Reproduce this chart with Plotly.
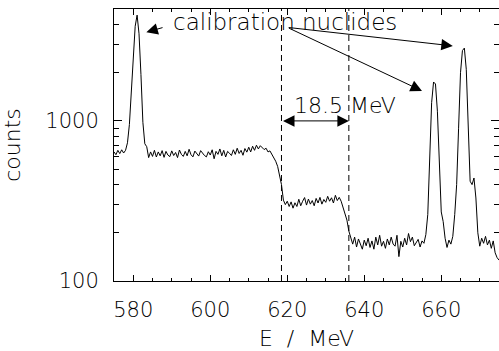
import math
import plotly.graph_objects as go

# ---- data -------------------------------------------------------------
E_START = 575.0      # MeV, first bin
E_STEP = 0.5         # MeV, bin width
counts = [
    640, 615, 655, 625, 660, 630, 655, 730, 950, 1600,      # 575.0-579.5
    2700, 3900, 4580, 3500, 1950, 980, 720, 690, 590, 640,  # 580.0-584.5
    600, 655, 595, 640, 605, 652, 592, 645, 612, 598,       # 585
    650, 608, 635, 590, 658, 618, 600, 645, 605, 665,       # 590
    615, 596, 648, 622, 603, 652, 628, 608, 596, 642,       # 595
    612, 660, 580, 645, 618, 668, 605, 655, 595, 645,       # 600
    628, 608, 660, 618, 675, 626, 655, 610, 672, 638,       # 605
    685, 640, 695, 655, 705, 668, 700, 676, 662, 675,       # 610
    640, 650, 620, 590, 560, 520, 460, 400, 320, 300,       # 615
    315, 292, 312, 285, 308, 292, 324, 295, 315, 332,       # 620
    298, 325, 302, 318, 295, 328, 307, 333, 302, 323,       # 625
    310, 338, 315, 331, 307, 343, 318, 333, 315, 285,       # 630
    265, 240, 205, 185, 170, 188, 163, 183, 170, 158,       # 635
    180, 166, 185, 162, 178, 158, 188, 168, 193, 165,       # 640
    177, 160, 183, 168, 188, 170, 165, 193, 142, 177,       # 645
    163, 185, 168, 198, 176, 188, 166, 174, 182, 163,       # 650
    178, 172, 195, 260, 600, 1300, 1750, 1700, 1150, 500,   # 655
    270, 235, 185, 162, 180, 170, 190, 260, 400, 900,       # 660
    2000, 2750, 2850, 2100, 1000, 420, 400, 440, 330, 200,  # 665
    165, 185, 172, 190, 168, 180, 160, 178, 150, 140,       # 670
    135,                                                    # 675
]
energy = [E_START + E_STEP * i for i in range(len(counts))]

x_range = [575, 675]
y_range = [100, 5000]
x_major = [580, 600, 620, 640, 660]
x_major_labels = ["580", "600", "620", "640", "660"]
x_minor = [575, 585, 590, 595, 605, 610, 615, 625, 630, 635, 645, 650, 655, 665, 670, 675]
y_major = [100, 1000]
y_major_labels = ["100", "1000"]
y_minor = [200, 300, 400, 500, 600, 700, 800, 900, 2000, 3000, 4000, 5000]

edges = [618.5, 636.0]            # dashed markers
gap_label = "18.5 MeV"
gap_label_pos = (634.9, 1240)
gap_arrow_y = 1000

calib_text = "calibration nuclides"
calib_text_pos = (619.5, 4150)
calib_arrows = [   # (tail x, tail y, head x, head y)
    (588.0, 3850, 583.4, 3580),
    (620.0, 3840, 663.0, 2940),
    (620.0, 3840, 655.0, 1540),
]

# ---- figure -----------------------------------------------------------
FONT = "DejaVu Sans"
WEIGHT = 200
L = math.log10

def fnt(size):
    return dict(family=FONT, size=size, color="black", weight=WEIGHT)

fig = go.Figure()
fig.add_trace(go.Scatter(x=energy, y=counts, mode="lines",
                         line=dict(color="black", width=1), showlegend=False,
                         hoverinfo="skip"))

for xe in edges:
    fig.add_shape(type="line", xref="x", yref="paper", x0=xe, x1=xe, y0=0, y1=1,
                  line=dict(color="black", width=1, dash="6px,4px"))

# double-headed arrow between the dashed lines
fig.add_annotation(x=edges[1], y=L(gap_arrow_y), ax=edges[0], ay=L(gap_arrow_y),
                   xref="x", yref="y", axref="x", ayref="y", text="",
                   showarrow=True, arrowhead=2, startarrowhead=2,
                   arrowside="end+start", arrowsize=2.3, startarrowsize=2.3,
                   arrowwidth=1, arrowcolor="black")
fig.add_annotation(x=gap_label_pos[0], y=L(gap_label_pos[1]), xref="x", yref="y",
                   text=gap_label, showarrow=False, font=fnt(22))

fig.add_annotation(x=calib_text_pos[0], y=L(calib_text_pos[1]), xref="x", yref="y",
                   text=calib_text, showarrow=False, font=fnt(23))
for tx, ty, hx, hy in calib_arrows:
    fig.add_annotation(x=hx, y=L(hy), ax=tx, ay=L(ty), xref="x", yref="y",
                       axref="x", ayref="y", text="", showarrow=True,
                       arrowhead=2, arrowsize=2.3, arrowwidth=1, arrowcolor="black")

axis_common = dict(showline=True, linecolor="black", linewidth=1, mirror="allticks",
                   ticks="inside", tickcolor="black", tickwidth=1,
                   showgrid=False, zeroline=False, tickfont=fnt(21))

fig.update_xaxes(range=x_range, tickmode="array", tickvals=x_major,
                 ticktext=x_major_labels, ticklen=6,
                 minor=dict(tickmode="array", tickvals=x_minor, ticks="inside",
                            ticklen=3, tickcolor="black", showgrid=False),
                 title=dict(text="E  /  MeV", font=fnt(22), standoff=9),
                 ticklabelstandoff=10,
                 **axis_common)
fig.update_yaxes(type="log", range=[L(y_range[0]), L(y_range[1])], tickmode="array",
                 tickvals=y_major, ticktext=y_major_labels, ticklen=8,
                 minor=dict(tickmode="array", tickvals=y_minor, ticks="inside",
                            ticklen=5, tickcolor="black", showgrid=False),
                 title=dict(text="counts", font=fnt(22), standoff=20),
                 ticklabelstandoff=10,
                 **axis_common)

fig.update_layout(width=499, height=351, margin=dict(l=114, r=0, t=9, b=70),
                  paper_bgcolor="white", plot_bgcolor="white")

fig.write_html("out.html")
